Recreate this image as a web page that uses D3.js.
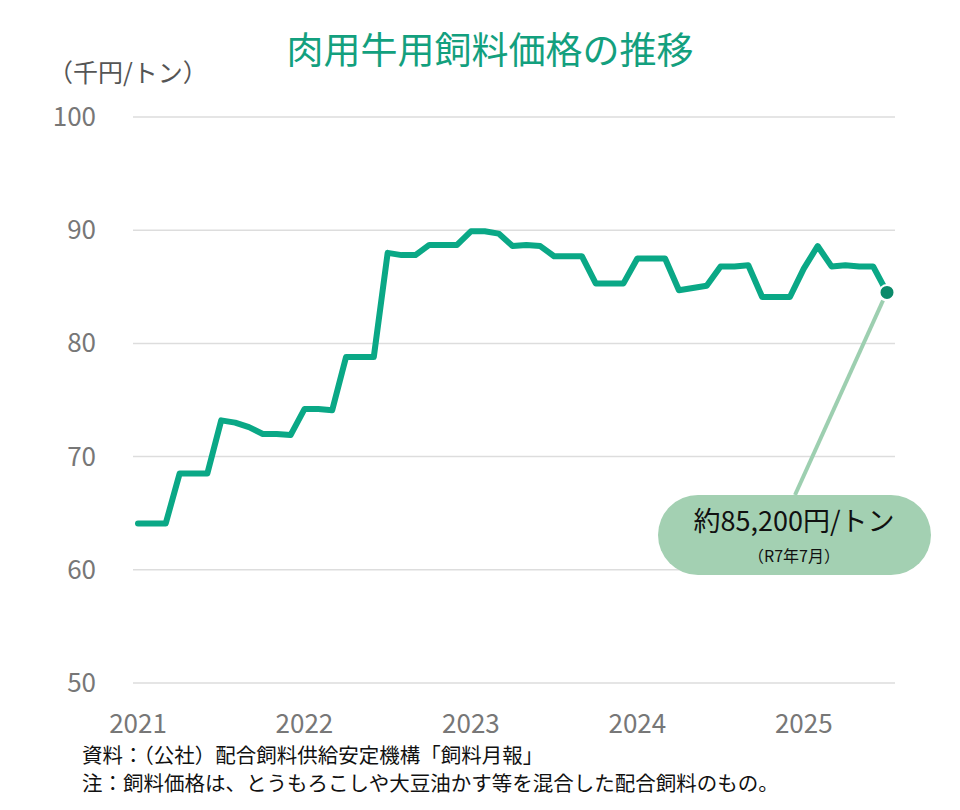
<!DOCTYPE html><html><head><meta charset="utf-8"><script src="https://cdn.jsdelivr.net/npm/d3@7"></script>
<style>body{margin:0;background:#fff}text{font-family:"Noto Sans CJK JP","Noto Sans",sans-serif}</style></head><body><svg id="c" width="960" height="810"></svg><script>
const years=["2021","2022","2023","2024","2025"];
const yTicks=[50,60,70,80,90,100];
const values=[64.1,64.1,64.1,68.5,68.5,68.5,73.2,73.0,72.6,72.0,72.0,71.9,
74.2,74.2,74.1,78.8,78.8,78.8,88.0,87.8,87.8,88.7,88.7,88.7,
89.9,89.9,89.7,88.6,88.7,88.6,87.7,87.7,87.7,85.3,85.3,85.3,
87.5,87.5,87.5,84.7,84.9,85.1,86.8,86.8,86.9,84.1,84.1,84.1,
86.6,88.6,86.8,86.9,86.8,86.8,84.5];
const svg=d3.select("#c");
const x=d3.scaleLinear().domain([0,54]).range([138,887]);
const y=d3.scaleLinear().domain([50,100]).range([683,117]);
svg.append("text").attr("x",490).attr("y",64).attr("text-anchor","middle").attr("font-size",37).attr("fill","#13a07e").text("肉用牛用飼料価格の推移");
svg.append("text").attr("x",48).attr("y",82).attr("font-size",25).attr("fill","#555").text("（千円/トン）");
yTicks.forEach(t=>{
 svg.append("line").attr("x1",133).attr("x2",895).attr("y1",y(t)).attr("y2",y(t)).attr("stroke","#ddd").attr("stroke-width",1.5);
 svg.append("text").attr("x",96).attr("y",y(t)+9).attr("text-anchor","end").attr("font-size",26).attr("fill","#777").text(t);
});
years.forEach((yr,i)=>svg.append("text").attr("x",x(i*12)).attr("y",733).attr("text-anchor","middle").attr("font-size",26).attr("fill","#777").text(yr));
svg.append("path").datum(values).attr("fill","none").attr("stroke","#0aa886").attr("stroke-width",6).attr("stroke-linejoin","round").attr("stroke-linecap","round")
 .attr("d",d3.line().x((d,i)=>x(i)).y(d=>y(d)));
const last=values.length-1;
svg.append("line").attr("x1",x(last)-4).attr("y1",y(values[last])+8).attr("x2",795).attr("y2",495).attr("stroke","#9dcfb0").attr("stroke-width",4);
svg.append("circle").attr("cx",x(last)).attr("cy",y(values[last])).attr("r",7.5).attr("fill","#0b8a6a").attr("stroke","#fff").attr("stroke-width",2);
svg.append("rect").attr("x",658).attr("y",495).attr("width",273).attr("height",80).attr("rx",40).attr("fill","#a3d0b2");
svg.append("text").attr("x",794).attr("y",531).attr("text-anchor","middle").attr("font-size",27).attr("fill","#111").text("約85,200円/トン");
svg.append("text").attr("x",794).attr("y",562).attr("text-anchor","middle").attr("font-size",16).attr("fill","#111").text("（R7年7月）");
svg.append("text").attr("x",82).attr("y",763).attr("font-size",20.5).attr("fill","#111").text("資料：（公社）配合飼料供給安定機構「飼料月報」");
svg.append("text").attr("x",82).attr("y",791).attr("font-size",20.5).attr("fill","#111").text("注：飼料価格は、とうもろこしや大豆油かす等を混合した配合飼料のもの。");
</script></body></html>
